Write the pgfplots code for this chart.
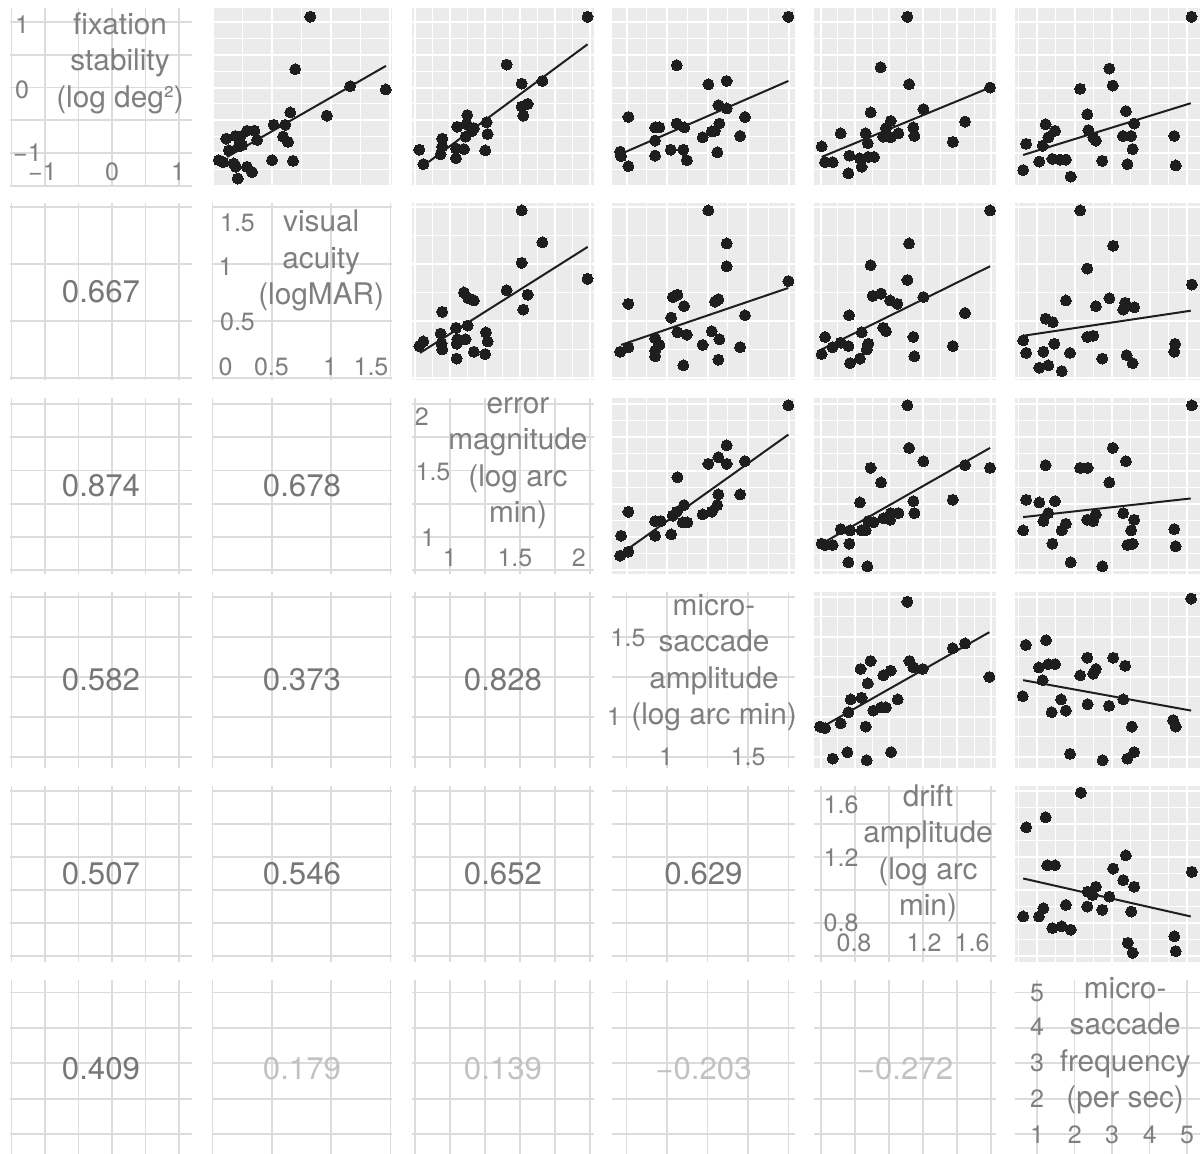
\documentclass[border=0pt]{standalone}
\usepackage{pgfplots}
\pgfplotsset{compat=1.18}
\usepackage{fontspec}
\setmainfont{TeX Gyre Heros}
\definecolor{bgg}{HTML}{EBEBEB}
\definecolor{gridc}{HTML}{DCDCDC}
\definecolor{tcol}{HTML}{7F7F7F}
\definecolor{sigc}{HTML}{777777}
\definecolor{nsc}{HTML}{C2C2C2}
\definecolor{ptc}{HTML}{1E1E1E}
\newcommand\nf{\fontsize{14.9pt}{18.25pt}\selectfont}
\newcommand\cf{\fontsize{15.6pt}{18pt}\selectfont}
\newcommand\tf{\fontsize{12.5pt}{14pt}\selectfont}
\tikzset{
 nm/.style={font=\nf, text=tcol, align=center},
 tl/.style={font=\tf, text=tcol},
}
\pgfplotsset{
 base/.style={scale only axis, anchor=north west, xticklabels={}, yticklabels={}, major tick length=0pt, minor tick length=0pt, axis line style={draw=none}},
 upper/.style={base, axis background/.style={fill=bgg}, xmajorgrids, ymajorgrids, xminorgrids, yminorgrids, major grid style={white, line width=1pt}, minor grid style={white, line width=0.5pt}},
 lower/.style={base, clip=false, xmajorgrids, ymajorgrids, major grid style={gridc, line width=0.9pt}},
 diag/.style={base, clip=false, xmajorgrids, ymajorgrids, major grid style={gridc, line width=0.9pt}},
 pts/.style={only marks, mark=*, mark size=2.75pt, color=ptc, mark options={draw=ptc, fill=ptc, line width=0pt}},
 fit/.style={color=ptc, line width=1pt, no marks},
 C1/.style={width=91pt, xmin=-1.522, xmax=1.194, xtick={-1.5,-1,-0.5,0,0.5,1}, minor xtick={-1.25,-0.75,-0.25,0.25,0.75}},
 C2/.style={width=90pt, xmin=-0.005, xmax=1.513, xtick={0,0.5,1,1.5}, minor xtick={0.25,0.75,1.25}},
 C3/.style={width=91pt, xmin=0.729, xmax=2.029, xtick={0.75,1,1.25,1.5,1.75,2}, minor xtick={0.875,1.125,1.375,1.625,1.875}},
 C4/.style={width=91.5pt, xmin=0.660, xmax=1.790, xtick={0.75,1,1.25,1.5,1.75}, minor xtick={0.875,1.125,1.375,1.625}},
 C5/.style={width=91pt, xmin=0.559, xmax=1.629, xtick={0.6,0.8,1,1.2,1.4,1.6}, minor xtick={0.7,0.9,1.1,1.3,1.5}},
 C6/.style={width=92.5pt, xmin=0.413, xmax=5.347, xtick={1,2,3,4,5}, minor xtick={0.5,1.5,2.5,3.5,4.5}},
 R1/.style={height=89pt, ymin=-1.504, ymax=1.214, ytick={-1.5,-1,-0.5,0,0.5,1}, minor ytick={-1.25,-0.75,-0.25,0.25,0.75}},
 R2/.style={height=88.5pt, ymin=-0.018, ymax=1.535, ytick={0,0.5,1,1.5}, minor ytick={0.25,0.75,1.25}},
 R3/.style={height=88pt, ymin=0.722, ymax=2.045, ytick={0.75,1,1.25,1.5,1.75,2}, minor ytick={0.875,1.125,1.375,1.625,1.875}},
 R4/.style={height=88pt, ymin=0.681, ymax=1.781, ytick={0.75,1,1.25,1.5,1.75}, minor ytick={0.875,1.125,1.375,1.625}},
 R5/.style={height=88pt, ymin=0.564, ymax=1.630, ytick={0.6,0.8,1,1.2,1.4,1.6}, minor ytick={0.7,0.9,1.1,1.3,1.5}},
 R6/.style={height=88.5pt, ymin=0.350, ymax=5.350, ytick={1,2,3,4,5}, minor ytick={0.5,1.5,2.5,3.5,4.5}},
}
\begin{document}
\begin{tikzpicture}
\path[use as bounding box] (0,0) rectangle (601pt,-576.5pt);
% ---------------- row 1
\begin{axis}[diag, C1, R1, at={(5pt,-4pt)}]
\node[nm] at (axis cs:0.12,0.37) {fixation\\stability\\(log deg²)};
\node[tl] at (axis cs:-1.343,0.954) {1};
\node[tl] at (axis cs:-1.343,-0.038) {0};
\node[tl] at (axis cs:-1.261,-1.0) {−1};
\node[tl] at (axis cs:-1.037,-1.29) {−1};
\node[tl] at (axis cs:0,-1.29) {0};
\node[tl] at (axis cs:0.985,-1.29) {1};
\end{axis}
\begin{axis}[upper, C2, R1, at={(106pt,-4pt)}]
\addplot[pts] coordinates {(0.824,1.08)(0.697,0.28)(1.16,0.02)(1.46,-0.03)(0.655,-0.38)(0.964,-0.43)(0.515,-0.57)(0.613,-0.57)(0.594,-0.75)(0.636,-0.83)(0.29,-0.66)(0.353,-0.66)(0.375,-0.80)(0.115,-0.78)(0.193,-0.74)(0.235,-0.75)(0.221,-0.90)(0.137,-0.96)(0.053,-1.11)(0.09,-1.14)(0.179,-1.16)(0.196,-1.21)(0.29,-1.21)(0.333,-1.29)(0.213,-1.39)(0.501,-1.11)(0.678,-1.12)(0.25,-0.88)};
\addplot[fit] coordinates {(0.123,-1.06)(1.462,0.33)};
\end{axis}
\begin{axis}[upper, C3, R1, at={(206pt,-4pt)}]
\addplot[pts] coordinates {(1.983,1.08)(1.405,0.35)(1.512,0.06)(1.66,0.10)(1.512,-0.29)(1.555,-0.25)(1.524,-0.43)(1.262,-0.53)(1.269,-0.71)(1.252,-0.96)(1.124,-0.42)(1.052,-0.60)(1.119,-0.56)(1.171,-0.62)(1.112,-0.75)(0.945,-0.78)(0.945,-0.90)(0.933,-1.02)(1.043,-0.93)(1.1,-0.94)(1.043,-1.08)(0.781,-0.95)(0.81,-1.17)(1.155,-0.67)};
\addplot[fit] coordinates {(0.845,-1.14)(1.983,0.66)};
\end{axis}
\begin{axis}[upper, C4, R1, at={(306pt,-4pt)}]
\addplot[pts] coordinates {(1.749,1.08)(1.06,0.34)(1.255,0.05)(1.368,0.10)(1.317,-0.27)(1.368,-0.32)(1.481,-0.45)(0.761,-0.45)(0.926,-0.61)(0.953,-0.61)(1.06,-0.55)(1.107,-0.61)(1.323,-0.55)(1.296,-0.66)(1.276,-0.67)(1.22,-0.76)(1.451,-0.74)(0.926,-0.81)(0.71,-0.98)(0.716,-1.05)(0.761,-1.20)(0.926,-1.04)(1.023,-0.95)(1.1,-0.95)(1.122,-1.11)(1.31,-0.99)};
\addplot[fit] coordinates {(0.7,-1.03)(1.749,0.10)};
\end{axis}
\begin{axis}[upper, C5, R1, at={(407pt,-4pt)}]
\addplot[pts] coordinates {(1.108,1.08)(0.951,0.31)(1.118,0.05)(1.594,0.00)(1.202,-0.33)(0.892,-0.38)(1.01,-0.51)(0.982,-0.62)(0.966,-0.75)(1.01,-0.76)(1.055,-0.70)(1.143,-0.61)(1.149,-0.74)(1.447,-0.52)(1.375,-0.83)(0.863,-0.70)(0.875,-0.85)(0.716,-0.70)(0.604,-0.90)(0.624,-1.14)(0.669,-1.14)(0.767,-1.04)(0.829,-1.08)(0.878,-1.06)(0.912,-1.06)(0.839,-1.21)(0.761,-1.31)};
\addplot[fit] coordinates {(0.604,-1.06)(1.594,0.00)};
\end{axis}
\begin{axis}[upper, C6, R1, at={(507.5pt,-4pt)}]
\addplot[pts] coordinates {(5.12,1.08)(2.93,0.29)(3.02,0.03)(2.15,-0.02)(2.34,-0.41)(3.37,-0.36)(3.59,-0.55)(2.37,-0.65)(2.50,-0.76)(2.57,-0.81)(3.29,-0.74)(3.51,-0.74)(3.55,-0.94)(4.66,-0.74)(1.23,-0.56)(1.48,-0.66)(1.30,-0.76)(1.15,-0.89)(0.71,-0.86)(0.63,-1.26)(1.06,-1.13)(1.41,-1.09)(1.61,-1.10)(1.77,-1.10)(1.90,-1.36)(2.74,-1.12)(3.41,-1.17)(4.70,-1.19)};
\addplot[fit] coordinates {(0.63,-1.03)(5.10,-0.24)};
\end{axis}
% ---------------- row 2
\begin{axis}[lower, C1, R2, at={(5pt,-101.5pt)}]
\node[font=\cf, text=sigc] at (rel axis cs:0.5,0.5) {0.667};
\end{axis}
\begin{axis}[diag, C2, R2, at={(106pt,-101.5pt)}]
\node[nm] at (axis cs:0.916,1.03) {visual\\acuity\\(logMAR)};
\node[tl] at (axis cs:0.21,1.36) {1.5};
\node[tl] at (axis cs:0.109,0.974) {1};
\node[tl] at (axis cs:0.21,0.491) {0.5};
\node[tl] at (axis cs:0.109,0.096) {0};
\node[tl] at (axis cs:0.496,0.096) {0.5};
\node[tl] at (axis cs:0.99,0.096) {1};
\node[tl] at (axis cs:1.336,0.096) {1.5};
\end{axis}
\begin{axis}[upper, C3, R2, at={(206pt,-101.5pt)}]
\addplot[pts] coordinates {(1.512,1.47)(1.66,1.19)(1.512,1.01)(1.983,0.87)(1.405,0.77)(1.555,0.73)(1.524,0.60)(1.1,0.75)(1.131,0.70)(1.171,0.68)(0.945,0.58)(1.043,0.44)(1.126,0.46)(0.933,0.39)(1.052,0.34)(1.112,0.34)(1.048,0.30)(1.257,0.40)(1.269,0.32)(0.94,0.30)(0.945,0.25)(0.81,0.32)(0.781,0.28)(1.048,0.17)(1.171,0.23)(1.252,0.21)};
\addplot[fit] coordinates {(0.786,0.22)(1.984,1.15)};
\end{axis}
\begin{axis}[upper, C4, R2, at={(306pt,-101.5pt)}]
\addplot[pts] coordinates {(1.255,1.47)(1.368,1.18)(1.368,0.98)(1.749,0.85)(0.761,0.65)(1.035,0.71)(1.064,0.73)(1.105,0.63)(1.296,0.67)(1.317,0.69)(1.025,0.53)(1.481,0.55)(1.064,0.40)(1.122,0.38)(1.276,0.41)(1.323,0.34)(0.926,0.35)(0.953,0.29)(0.926,0.24)(0.926,0.19)(0.71,0.23)(0.761,0.27)(1.22,0.29)(1.451,0.27)(1.101,0.11)(1.317,0.16)};
\addplot[fit] coordinates {(0.716,0.29)(1.749,0.79)};
\end{axis}
\begin{axis}[upper, C5, R2, at={(407pt,-101.5pt)}]
\addplot[pts] coordinates {(1.594,1.47)(1.118,1.18)(0.892,0.99)(1.108,0.86)(1.202,0.71)(0.904,0.72)(0.953,0.74)(1.006,0.68)(1.049,0.65)(0.765,0.55)(1.447,0.57)(0.966,0.44)(0.982,0.41)(0.839,0.40)(0.624,0.36)(1.143,0.36)(1.375,0.28)(1.149,0.19)(0.716,0.31)(0.761,0.28)(0.667,0.27)(0.604,0.21)(0.878,0.30)(0.869,0.25)(0.829,0.17)(0.771,0.13)};
\addplot[fit] coordinates {(0.604,0.25)(1.594,0.98)};
\end{axis}
\begin{axis}[upper, C6, R2, at={(507.5pt,-101.5pt)}]
\addplot[pts] coordinates {(2.15,1.47)(3.03,1.16)(2.34,0.96)(5.13,0.82)(1.77,0.68)(2.93,0.70)(2.57,0.63)(3.35,0.66)(3.30,0.60)(3.59,0.62)(1.23,0.52)(1.42,0.49)(0.63,0.33)(2.34,0.36)(2.50,0.37)(0.71,0.22)(1.17,0.23)(1.46,0.30)(1.88,0.22)(1.06,0.09)(1.30,0.11)(1.66,0.06)(2.74,0.17)(3.39,0.20)(3.55,0.13)(4.68,0.30)(4.66,0.23)};
\addplot[fit] coordinates {(0.63,0.37)(5.10,0.59)};
\end{axis}
% ---------------- row 3
\begin{axis}[lower, C1, R3, at={(5pt,-199pt)}]
\node[font=\cf, text=sigc] at (rel axis cs:0.5,0.5) {0.874};
\end{axis}
\begin{axis}[lower, C2, R3, at={(106pt,-199pt)}]
\node[font=\cf, text=sigc] at (rel axis cs:0.5,0.5) {0.678};
\end{axis}
\begin{axis}[diag, C3, R3, at={(206pt,-199pt)}]
\node[nm] at (axis cs:1.486,1.556) {error\\magnitude\\(log arc\\min)};
\node[tl] at (axis cs:0.8,1.902) {2};
\node[tl] at (axis cs:0.879,1.489) {1.5};
\node[tl] at (axis cs:0.843,0.992) {1};
\node[tl] at (axis cs:1.0,0.842) {1};
\node[tl] at (axis cs:1.464,0.842) {1.5};
\node[tl] at (axis cs:1.921,0.842) {2};
\end{axis}
\begin{axis}[upper, C4, R3, at={(306pt,-199pt)}]
\addplot[pts] coordinates {(1.749,1.99)(1.368,1.69)(1.317,1.60)(1.255,1.55)(1.368,1.55)(1.481,1.57)(1.064,1.45)(1.317,1.32)(1.451,1.32)(1.31,1.24)(1.276,1.19)(1.22,1.17)(1.105,1.24)(1.06,1.19)(1.035,1.16)(1.097,1.11)(1.125,1.11)(0.926,1.12)(0.961,1.12)(0.926,1.01)(1.025,1.02)(0.761,1.19)(0.716,1.01)(0.761,0.89)(0.71,0.86)};
\addplot[fit] coordinates {(0.7,0.86)(1.749,1.77)};
\end{axis}
\begin{axis}[upper, C5, R3, at={(407pt,-199pt)}]
\addplot[pts] coordinates {(1.108,1.99)(1.118,1.67)(1.202,1.57)(0.892,1.52)(0.953,1.41)(1.447,1.54)(1.594,1.52)(0.829,1.26)(1.143,1.27)(1.375,1.28)(1.149,1.18)(1.055,1.18)(1.01,1.18)(0.966,1.14)(1.006,1.13)(0.878,1.12)(0.908,1.11)(0.839,1.05)(0.863,1.05)(0.716,1.06)(0.771,1.05)(0.604,0.95)(0.624,0.94)(0.669,0.94)(0.767,0.95)(0.761,0.81)(0.872,0.78)};
\addplot[fit] coordinates {(0.604,0.95)(1.594,1.67)};
\end{axis}
\begin{axis}[upper, C6, R3, at={(507.5pt,-199pt)}]
\addplot[pts] coordinates {(5.13,1.99)(3.02,1.67)(3.37,1.57)(1.23,1.54)(2.15,1.52)(2.35,1.52)(2.93,1.41)(0.71,1.28)(1.06,1.26)(1.48,1.27)(1.30,1.18)(1.17,1.12)(0.63,1.05)(1.77,1.10)(1.66,1.05)(1.41,0.95)(1.90,0.81)(2.34,1.13)(2.57,1.17)(2.50,1.12)(2.74,0.78)(3.30,1.18)(3.59,1.13)(3.51,1.05)(3.41,0.94)(3.55,0.95)(4.66,1.06)(4.70,0.93)};
\addplot[fit] coordinates {(0.63,1.15)(5.10,1.29)};
\end{axis}
% ---------------- row 4
\begin{axis}[lower, C1, R4, at={(5pt,-296pt)}]
\node[font=\cf, text=sigc] at (rel axis cs:0.5,0.5) {0.582};
\end{axis}
\begin{axis}[lower, C2, R4, at={(106pt,-296pt)}]
\node[font=\cf, text=sigc] at (rel axis cs:0.5,0.5) {0.373};
\end{axis}
\begin{axis}[lower, C3, R4, at={(206pt,-296pt)}]
\node[font=\cf, text=sigc] at (rel axis cs:0.5,0.5) {0.828};
\end{axis}
\begin{axis}[diag, C4, R4, at={(306pt,-296pt)}]
\node[nm] at (axis cs:1.29,1.34) {micro-\\saccade\\amplitude\\(log arc min)};
\node[tl] at (axis cs:0.759,1.494) {1.5};
\node[tl] at (axis cs:0.673,1.0) {1};
\node[tl] at (axis cs:0.994,0.75) {1};
\node[tl] at (axis cs:1.5,0.75) {1.5};
\end{axis}
\begin{axis}[upper, C5, R4, at={(407pt,-296pt)}]
\addplot[pts] coordinates {(1.108,1.72)(0.892,1.35)(0.833,1.30)(1.12,1.35)(1.143,1.31)(1.198,1.30)(0.966,1.26)(1.01,1.29)(0.875,1.21)(1.375,1.43)(1.447,1.46)(1.59,1.25)(0.775,1.11)(0.839,1.12)(1.051,1.11)(0.761,1.03)(0.908,1.04)(0.953,1.06)(0.982,1.06)(0.716,0.96)(0.594,0.94)(0.624,0.93)(0.863,0.94)(0.669,0.74)(0.755,0.78)(0.869,0.73)(1.012,0.78)};
\addplot[fit] coordinates {(0.594,0.93)(1.59,1.53)};
\end{axis}
\begin{axis}[upper, C6, R4, at={(507.5pt,-296pt)}]
\addplot[pts] coordinates {(5.11,1.74)(0.70,1.45)(1.24,1.48)(1.05,1.31)(1.30,1.33)(1.48,1.33)(1.15,1.23)(2.34,1.37)(3.03,1.37)(3.35,1.32)(2.57,1.30)(2.50,1.27)(2.15,1.26)(0.62,1.13)(1.64,1.11)(1.39,1.03)(1.77,1.04)(2.35,1.08)(2.92,1.07)(3.30,1.11)(3.53,0.94)(4.63,0.98)(4.70,0.94)(1.88,0.77)(2.75,0.73)(3.41,0.74)(3.59,0.78)};
\addplot[fit] coordinates {(0.63,1.23)(5.11,1.04)};
\end{axis}
% ---------------- row 5
\begin{axis}[lower, C1, R5, at={(5pt,-393pt)}]
\node[font=\cf, text=sigc] at (rel axis cs:0.5,0.5) {0.507};
\end{axis}
\begin{axis}[lower, C2, R5, at={(106pt,-393pt)}]
\node[font=\cf, text=sigc] at (rel axis cs:0.5,0.5) {0.546};
\end{axis}
\begin{axis}[lower, C3, R5, at={(206pt,-393pt)}]
\node[font=\cf, text=sigc] at (rel axis cs:0.5,0.5) {0.652};
\end{axis}
\begin{axis}[lower, C4, R5, at={(306pt,-393pt)}]
\node[font=\cf, text=sigc] at (rel axis cs:0.5,0.5) {0.629};
\end{axis}
\begin{axis}[diag, C5, R5, at={(407pt,-393pt)}]
\node[nm] at (axis cs:1.229,1.224) {drift\\amplitude\\(log arc\\min)};
\node[tl] at (axis cs:0.718,1.515) {1.6};
\node[tl] at (axis cs:0.718,1.194) {1.2};
\node[tl] at (axis cs:0.718,0.8) {0.8};
\node[tl] at (axis cs:0.794,0.679) {0.8};
\node[tl] at (axis cs:1.206,0.679) {1.2};
\node[tl] at (axis cs:1.488,0.679) {1.6};
\end{axis}
\begin{axis}[upper, C6, R5, at={(507.5pt,-393pt)}]
\addplot[pts] coordinates {(2.17,1.59)(1.23,1.44)(0.71,1.38)(1.27,1.15)(1.48,1.15)(3.37,1.21)(3.03,1.13)(3.30,1.06)(3.59,1.02)(5.13,1.11)(2.57,1.02)(2.35,0.99)(2.48,0.97)(2.93,0.96)(1.77,0.91)(2.34,0.90)(2.74,0.88)(3.51,0.87)(1.17,0.89)(1.05,0.84)(0.63,0.84)(1.41,0.77)(1.66,0.78)(1.90,0.76)(3.42,0.68)(3.55,0.62)(4.66,0.72)(4.70,0.63)};
\addplot[fit] coordinates {(0.63,1.07)(5.10,0.84)};
\end{axis}
% ---------------- row 6
\begin{axis}[lower, C1, R6, at={(5pt,-490pt)}]
\node[font=\cf, text=sigc] at (rel axis cs:0.5,0.5) {0.409};
\end{axis}
\begin{axis}[lower, C2, R6, at={(106pt,-490pt)}]
\node[font=\cf, text=nsc] at (rel axis cs:0.5,0.5) {0.179};
\end{axis}
\begin{axis}[lower, C3, R6, at={(206pt,-490pt)}]
\node[font=\cf, text=nsc] at (rel axis cs:0.5,0.5) {0.139};
\end{axis}
\begin{axis}[lower, C4, R6, at={(306pt,-490pt)}]
\node[font=\cf, text=nsc] at (rel axis cs:0.5,0.5) {−0.203};
\end{axis}
\begin{axis}[lower, C5, R6, at={(407pt,-490pt)}]
\node[font=\cf, text=nsc] at (rel axis cs:0.5,0.5) {−0.272};
\end{axis}
\begin{axis}[diag, C6, R6, at={(507.5pt,-490pt)}]
\node[nm] at (axis cs:3.35,3.5) {micro-\\saccade\\frequency\\(per sec)};
\node[tl] at (axis cs:1,4.98) {5};
\node[tl] at (axis cs:1,4.02) {4};
\node[tl] at (axis cs:1,3.0) {3};
\node[tl] at (axis cs:1,1.99) {2};
\node[tl] at (axis cs:1,0.97) {1};
\node[tl] at (axis cs:2.01,0.97) {2};
\node[tl] at (axis cs:3.0,0.97) {3};
\node[tl] at (axis cs:4.01,0.97) {4};
\node[tl] at (axis cs:5.0,0.97) {5};
\end{axis}
\end{tikzpicture}
\end{document}
